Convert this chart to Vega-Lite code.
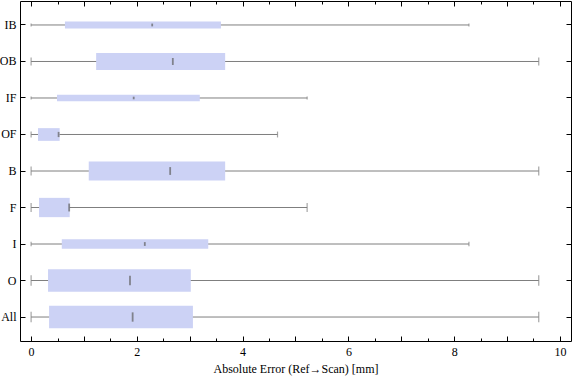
{
  "$schema": "https://vega.github.io/schema/vega-lite/v6.json",
  "width": 551,
  "height": 340,
  "autosize": "none",
  "padding": {"left": 20, "top": 1, "right": 5, "bottom": 40},
  "background": "white",
  "data": {
    "values": [
      {"cat": "IB", "min": 0, "q1": 0.64, "median": 2.29, "q3": 3.59, "max": 8.28, "n": 30},
      {"cat": "OB", "min": 0, "q1": 1.23, "median": 2.68, "q3": 3.67, "max": 9.6, "n": 75},
      {"cat": "IF", "min": 0, "q1": 0.49, "median": 1.94, "q3": 3.19, "max": 5.22, "n": 28},
      {"cat": "OF", "min": 0, "q1": 0.13, "median": 0.52, "q3": 0.54, "max": 4.66, "n": 56},
      {"cat": "B", "min": 0, "q1": 1.09, "median": 2.63, "q3": 3.67, "max": 9.6, "n": 84},
      {"cat": "F", "min": 0, "q1": 0.15, "median": 0.72, "q3": 0.73, "max": 5.22, "n": 85},
      {"cat": "I", "min": 0, "q1": 0.58, "median": 2.15, "q3": 3.35, "max": 8.28, "n": 41},
      {"cat": "O", "min": 0, "q1": 0.32, "median": 1.87, "q3": 3.02, "max": 9.6, "n": 100},
      {"cat": "All", "min": 0, "q1": 0.34, "median": 1.92, "q3": 3.06, "max": 9.6, "n": 100}
    ]
  },
  "config": {
    "view": {"stroke": null},
    "font": "Liberation Serif",
    "axis": {
      "domainColor": "black",
      "domainWidth": 1,
      "tickColor": "black",
      "tickWidth": 1,
      "grid": false,
      "labelFont": "Liberation Serif",
      "labelFontSize": 12,
      "labelColor": "black",
      "titleFont": "Liberation Serif",
      "titleFontSize": 12,
      "titleFontWeight": "normal",
      "titleColor": "black"
    }
  },
  "resolve": {
    "scale": {"size": "independent"},
    "axis": {"x": "independent", "y": "independent"}
  },
  "layer": [
    {
      "mark": {"type": "rule", "color": "#7f7f7f", "strokeWidth": 1},
      "encoding": {
        "y": {
          "field": "cat", "type": "nominal",
          "sort": ["IB", "OB", "IF", "OF", "B", "F", "I", "O", "All"],
          "scale": {"paddingInner": 0, "paddingOuter": 0.157},
          "axis": {"orient": "left", "title": null, "tickSize": -5, "labelPadding": 9, "labelAngle": 0}
        },
        "x": {
          "field": "min", "type": "quantitative",
          "scale": {"domain": [-0.21, 10.21], "nice": false, "zero": false},
          "axis": {
            "orient": "bottom",
            "title": "Absolute Error (Ref\u2192Scan) [mm]",
            "values": [0, 0.5, 1, 1.5, 2, 2.5, 3, 3.5, 4, 4.5, 5, 5.5, 6, 6.5, 7, 7.5, 8, 8.5, 9, 9.5, 10],
            "labelExpr": "datum.value % 2 === 0 ? format(datum.value, 'd') : ''",
            "tickSize": {"condition": {"test": "datum.value % 1 === 0", "value": -5}, "value": -3},
            "labelPadding": 10,
            "titlePadding": 6,
            "labelFlush": false
          }
        },
        "x2": {"field": "max"}
      }
    },
    {
      "mark": {"type": "bar", "color": "#ccd2f5"},
      "encoding": {
        "y": {
          "field": "cat", "type": "nominal",
          "sort": ["IB", "OB", "IF", "OF", "B", "F", "I", "O", "All"],
          "axis": {"orient": "right", "title": null, "labels": false, "tickSize": -5}
        },
        "x": {
          "field": "q1", "type": "quantitative",
          "axis": {
            "orient": "top",
            "title": null,
            "labels": false,
            "values": [0, 0.5, 1, 1.5, 2, 2.5, 3, 3.5, 4, 4.5, 5, 5.5, 6, 6.5, 7, 7.5, 8, 8.5, 9, 9.5, 10],
            "tickSize": {"condition": {"test": "datum.value % 1 === 0", "value": -5}, "value": -3}
          }
        },
        "x2": {"field": "q3"},
        "size": {"field": "n", "type": "quantitative", "scale": {"domain": [0, 100], "range": [0, 22.7]}, "legend": null}
      }
    },
    {
      "mark": {"type": "tick", "color": "#7f7f7f", "thickness": 1.2},
      "encoding": {
        "y": {"field": "cat", "type": "nominal", "sort": ["IB", "OB", "IF", "OF", "B", "F", "I", "O", "All"], "axis": null},
        "x": {"field": "min", "type": "quantitative", "axis": null},
        "size": {"field": "n", "type": "quantitative", "scale": {"domain": [0, 100], "range": [0, 10.5]}, "legend": null}
      }
    },
    {
      "mark": {"type": "tick", "color": "#7f7f7f", "thickness": 1.2},
      "encoding": {
        "y": {"field": "cat", "type": "nominal", "sort": ["IB", "OB", "IF", "OF", "B", "F", "I", "O", "All"], "axis": null},
        "x": {"field": "max", "type": "quantitative", "axis": null},
        "size": {"field": "n", "type": "quantitative", "scale": {"domain": [0, 100], "range": [0, 10.5]}, "legend": null}
      }
    },
    {
      "mark": {"type": "tick", "color": "#5f5f5f", "thickness": 1.8},
      "encoding": {
        "y": {"field": "cat", "type": "nominal", "sort": ["IB", "OB", "IF", "OF", "B", "F", "I", "O", "All"], "axis": null},
        "x": {"field": "median", "type": "quantitative", "axis": null},
        "size": {"field": "n", "type": "quantitative", "scale": {"domain": [0, 100], "range": [0, 9.3]}, "legend": null}
      }
    }
  ]
}
